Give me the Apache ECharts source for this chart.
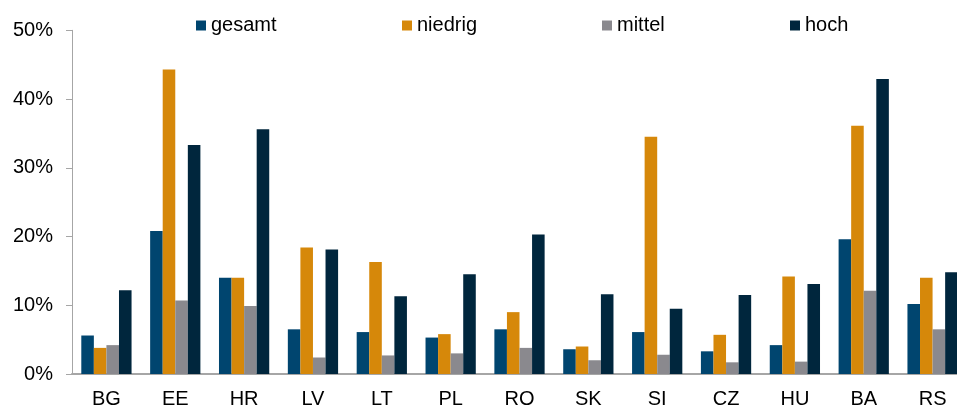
<!DOCTYPE html>
<html>
<head>
<meta charset="utf-8">
<style>
  html, body { margin: 0; padding: 0; background: #fff; overflow: hidden; }
  #chart { width: 967px; height: 409px; }
</style>
<script src="https://cdn.jsdelivr.net/npm/echarts@6/dist/echarts.min.js"></script>
</head>
<body>
<div id="chart"></div>
<script>
// Länder
var categories = ['BG', 'EE', 'HR', 'LV', 'LT', 'PL', 'RO', 'SK', 'SI', 'CZ', 'HU', 'BA', 'RS'];
// Werte in %
var gesamt  = [5.6, 20.8, 14.0, 6.5, 6.1, 5.3, 6.5, 3.6, 6.1, 3.3, 4.2, 19.6, 10.2];
var niedrig = [3.8, 44.3, 14.0, 18.4, 16.3, 5.8, 9.0, 4.0, 34.5, 5.7, 14.2, 36.1, 14.0];
var mittel  = [4.2, 10.7, 9.9, 2.4, 2.7, 3.0, 3.8, 2.0, 2.8, 1.7, 1.8, 12.1, 6.5];
var hoch    = [12.2, 33.3, 35.6, 18.1, 11.3, 14.5, 20.3, 11.6, 9.5, 11.5, 13.1, 42.9, 14.8];
var yTicks  = [0, 10, 20, 30, 40, 50];
var names   = ['gesamt', 'niedrig', 'mittel', 'hoch'];

var myChart = echarts.init(document.getElementById('chart'));

var font = 'Liberation Sans, Arial, sans-serif';

function bar(name, data, color) {
  return {
    name: name,
    type: 'bar',
    data: data,
    barGap: '0%',
    barCategoryGap: '27%',
    itemStyle: { color: color },
    emphasis: { disabled: true }
  };
}

// eine Legende pro Eintrag, damit die Abstände wie im Original sind
var legendLeft = [196, 402, 602, 790];
var legends = names.map(function (n, i) {
  return {
    left: legendLeft[i],
    top: 15.5,
    padding: 0,
    itemWidth: 10,
    itemHeight: 10,
    itemGap: 0,
    icon: 'rect',
    selectedMode: false,
    textStyle: { fontSize: 20, color: '#000', fontFamily: font },
    data: [n]
  };
});

var option = {
  animation: false,
  textStyle: { fontFamily: font },
  legend: legends,
  grid: {
    left: 72,
    top: 30.3,
    width: 895,
    bottom: 34.3,
    containLabel: false
  },
  xAxis: {
    type: 'category',
    data: categories,
    axisLine: { show: true, lineStyle: { color: '#a6a6a6', width: 2 } },
    axisTick: { show: false },
    axisLabel: { fontSize: 20, color: '#000', margin: 15, fontFamily: font }
  },
  yAxis: {
    type: 'value',
    min: yTicks[0],
    max: yTicks[yTicks.length - 1],
    interval: 10,
    axisLine: { show: true, lineStyle: { color: '#a6a6a6', width: 1 } },
    axisTick: { show: true, length: 6, lineStyle: { color: '#a6a6a6' } },
    splitLine: { show: false },
    axisLabel: { fontSize: 20, color: '#000', margin: 19, formatter: '{value}%', fontFamily: font }
  },
  series: [
    bar('gesamt', gesamt, '#00456f'),
    bar('niedrig', niedrig, '#d6880a'),
    bar('mittel', mittel, '#8a898e'),
    bar('hoch', hoch, '#00263d')
  ]
};

myChart.setOption(option);
</script>
</body>
</html>
